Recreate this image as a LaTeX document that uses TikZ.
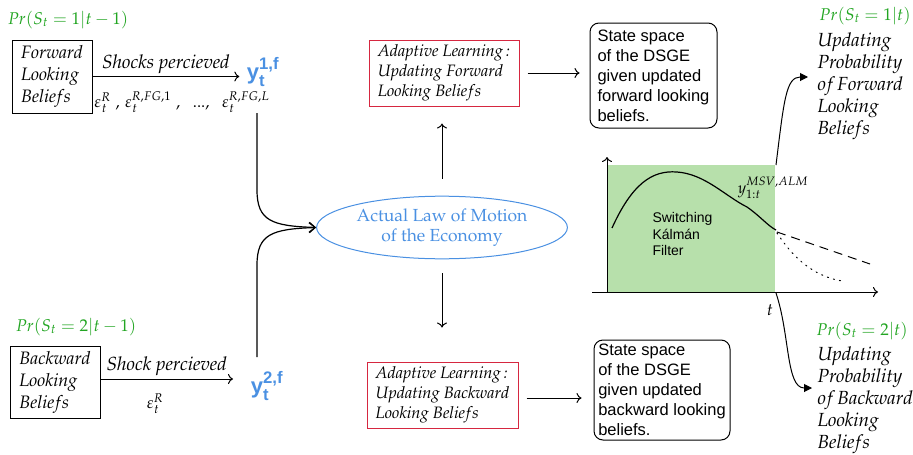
\documentclass[tikz,border=0pt]{standalone}
\usepackage[T1]{fontenc}
\usepackage{amsmath}
\usepackage{mathpazo}
\usepackage[no-math]{fontspec}
\setsansfont{Liberation Sans}
\usetikzlibrary{arrows.meta,shapes.geometric}
\newcommand\palf{\fontencoding{T1}\fontfamily{ppl}\fontshape{n}\selectfont}
\newcommand\palit{\fontencoding{T1}\fontfamily{ppl}\fontshape{it}\selectfont}
\newcommand\blf{Belie\kern1.2pt f\kern1.6pt s}
\definecolor{grn}{RGB}{34,165,34}
\definecolor{blu}{RGB}{74,144,226}
\definecolor{redb}{RGB}{214,39,64}
\definecolor{fillg}{RGB}{183,224,171}
\tikzset{
  belief/.style={draw, line width=1pt, align=left, inner sep=2pt, font=\palit\fontsize{18}{22}\selectfont},
  adapt/.style={draw=redb, line width=1pt, align=left, inner sep=3pt, font=\palit\fontsize{16.5}{20}\selectfont},
  statebox/.style={draw, rounded corners=9pt, line width=1pt, align=left, inner sep=4pt, font=\sffamily\fontsize{16.5}{20}\selectfont},
  prob/.style={text=grn, font=\fontsize{17}{20}\selectfont},
  obs/.style={text=blu, font=\sffamily\bfseries\fontsize{22}{24}\selectfont},
  lbl/.style={font=\palit\fontsize{19}{20}\selectfont},
  eps/.style={font=\fontsize{16.5}{20}\selectfont},
  side/.style={align=left, anchor=north west, font=\palit\fontsize{19}{22}\selectfont},
  arr/.style={-{To[length=5pt,width=10pt]}, line width=1pt},
  merge/.style={-{Straight Barb[length=6pt,width=10pt]}, line width=1.2pt},
  prarr/.style={-{Triangle[length=8pt,width=8pt]}, line width=1pt},
}
\begin{document}
\begin{tikzpicture}[x=1pt,y=-1pt]
\useasboundingbox (0,0) rectangle (913,455);

% forward looking branch
\node[prob] (pr1) at (68,20) {$Pr(S_t=1|t-1)$};
\node[belief, minimum width=80, minimum height=73] (fb) at (52,76.5) {Forward\\Looking\\\blf};
\node[obs] (y1) at (263,72) {y$_{\text{\sffamily\bfseries t}}^{\text{\sffamily\bfseries 1,f}}$};
\draw[arr] (fb.east) -- ([xshift=-4]y1.west |- fb.east)
  node[midway, above, lbl, yshift=-1] (shk1) {Shocks percieved};
\node[eps] (eps1) at (182,102) {$\varepsilon_t^R\ ,\,\varepsilon_t^{R,FG,1}\ ,\ \ ...,\ \ \varepsilon_t^{R,FG,L}$};

% backward looking branch
\node[prob] (pr2) at (76,327) {$Pr(S_t=2|t-1)$};
\node[belief, minimum width=90, minimum height=72] (bb) at (55,382) {Backward\\Looking\\\blf};
\node[obs] (y2) at (267,386) {y$_{\text{\sffamily\bfseries t}}^{\text{\sffamily\bfseries 2,f}}$};
\draw[arr] (bb.east |- 0,379) -- (233,379) coordinate (e2)
  node[midway, above, lbl, yshift=-1] (shk2) {Shock percieved};
\node[eps] (eps2) at (155,404) {$\varepsilon_t^R$};

% actual law of motion
\node[ellipse, draw=blu, line width=1pt, minimum width=248, minimum height=61, align=center,
      text=blu, font=\palf\fontsize{17.5}{20}\selectfont] (alm) at (442,227.5)
      {Actual Law of Motion\\of the Economy};
\coordinate (c1) at (257,113);
\coordinate (c2) at (257,357);
\draw[merge] (c1) -- (257,190) .. controls (257,221) and (272,226) .. (alm.west);
\draw[merge] (c2) -- (257,265) .. controls (257,234) and (272,229) .. (alm.west);

% adaptive learning boxes
\node[adapt, minimum width=150, minimum height=66] (alf) at (444,73)
  {Adaptive Learning\,:\\Updating Forward\\Looking \blf};
\node[adapt, minimum width=151, minimum height=66] (alb) at (442.5,395)
  {Adaptive Learning\,:\\Updating Backward\\Looking \blf};
\draw[arr, shorten <=17pt, shorten >=17pt] (alm.north) -- (alm.north |- alf.south);
\draw[arr, shorten <=14pt, shorten >=34pt] (alm.south) -- (alm.south |- alb.north);

% state space boxes
\node[statebox, minimum width=127, minimum height=105] (ssf) at (653.5,75.5)
  {State space\\of the DSGE\\given updated\\forward looking\\beliefs.};
\node[statebox, minimum width=136, minimum height=100] (ssb) at (662,390)
  {State space\\of the DSGE\\given updated\\backward looking\\beliefs.};
\draw[arr, shorten <=8pt, shorten >=10pt] (alf.east) -- (alf.east -| ssf.west);
\draw[arr, shorten <=8pt, shorten >=12pt] (alb.east |- 0,398) -- (ssb.west |- 0,398);

% filtering plot
\fill[fillg] (607,165) rectangle (775,292);
\coordinate (gtr) at (776,165);
\coordinate (gbr) at (776,293);
\draw[arr] (607,292) -- (607,157);
\draw[arr] (592,292) -- (878,292);
\draw[line width=1.2pt] (612,228) .. controls (632,184) and (652,170) .. (677,172)
  .. controls (705,174) and (725,196) .. (747,207) .. controls (760,216) and (768,226) .. (776,230);
\draw[line width=1pt, dash pattern=on 9pt off 6pt] (777,232) -- (870,264);
\draw[line width=1pt, dash pattern=on 1.2pt off 5pt, line cap=round] (777,233) .. controls (792,256) and (812,276) .. (842,281);
\node[font=\fontsize{16}{18}\selectfont] (ylab) at (773,188) {$y_{1:t}^{MSV,ALM}$};
\node[align=left, anchor=north west, font=\sffamily\fontsize{14}{16.5}\selectfont] (skf) at (649,209)
  {Switching\\Kálmán\\Filter};
\node[font=\fontsize{17}{18}\selectfont] (tlab) at (770,310) {$t$};

% updated regime probabilities
\node[prob] (pr3) at (865,16) {$Pr(S_t=1|t)$};
\node[side] (upf) at (814,29) {Updating\\Probability\\o\kern1.5pt f Forward\\Looking\\\blf};
\node[prob] (pr4) at (862,331) {$Pr(S_t=2|t)$};
\node[side] (upb) at (814,343) {Updating\\Probability\\o\kern1.5pt f Backward\\Looking\\\blf};
\coordinate (tipu) at (808,77);
\coordinate (tipb) at (812,388);
\draw[prarr] (gtr) .. controls (784,100) and (786,77) .. (tipu);
\draw[prarr] (gbr) .. controls (790,335) and (786,388) .. (tipb);
\end{tikzpicture}
\end{document}
